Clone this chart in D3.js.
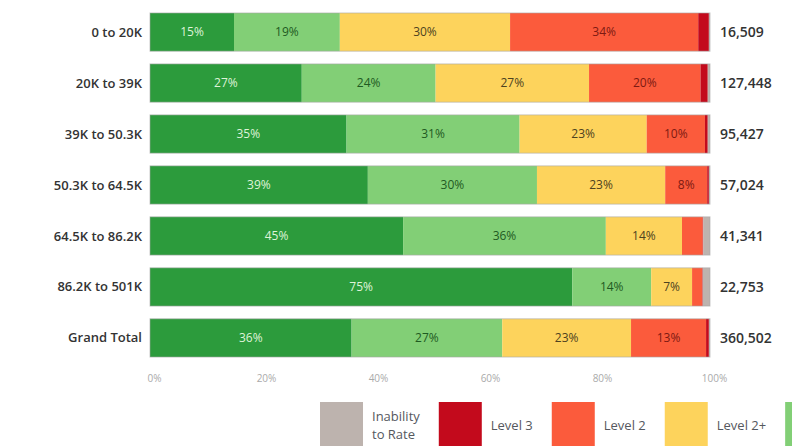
<!DOCTYPE html>
<html>
<head>
<meta charset="utf-8">
<script src="https://cdn.jsdelivr.net/npm/d3@7"></script>
<style>
  body { margin: 0; background: #fff; }
  svg { display: block; font-family: "Open Sans", "Noto Sans", sans-serif; }
</style>
</head>
<body>
<svg id="chart" width="792" height="446"></svg>
<script>
// Data
const incomeGroups = ['0 to 20K', '20K to 39K', '39K to 50.3K', '50.3K to 64.5K', '64.5K to 86.2K', '86.2K to 501K', 'Grand Total'];
const totals = ['16,509', '127,448', '95,427', '57,024', '41,341', '22,753', '360,502'];
// series in bar order, left to right
const levels = ['Level 1+', 'Level 1', 'Level 2+', 'Level 2', 'Level 3', 'Inability to Rate'];
const level1Plus = [15.0, 27.1, 35.1, 38.9, 45.2, 75.4, 36.0];
const level1 = [18.9, 23.9, 30.9, 30.2, 36.2, 14.1, 26.9];
const level2Plus = [30.4, 27.4, 22.7, 22.9, 13.6, 7.3, 23.0];
const level2 = [33.6, 19.9, 10.4, 7.5, 3.7, 1.8, 13.4];
const level3 = [1.9, 1.3, 0.5, 0.3, 0.1, 0.1, 0.5];
const unableToRate = [0.2, 0.4, 0.4, 0.2, 1.2, 1.3, 0.2];
const tickValues = [0, 20, 40, 60, 80, 100];
// legend as shown under the chart (the green entry is cut off at the right edge)
const legendOrder = ['Inability to Rate', 'Level 3', 'Level 2', 'Level 2+', 'Level 1'];

const colors = {
  'Level 1+': '#2c9b3c',
  'Level 1': '#82cf76',
  'Level 2+': '#fdd35c',
  'Level 2': '#fb5b3c',
  'Level 3': '#c30a1c',
  'Inability to Rate': '#bdb3ae'
};
const labelColors = {
  'Level 1+': '#dff3d8',
  'Level 1': '#1f5a22',
  'Level 2+': '#4d4220',
  'Level 2': '#7d1a12',
  'Level 3': '#fff',
  'Inability to Rate': '#333'
};

const seriesValues = [level1Plus, level1, level2Plus, level2, level3, unableToRate];
const rows = incomeGroups.map((g, i) => {
  const row = { group: g, total: totals[i] };
  levels.forEach((lv, j) => { row[lv] = seriesValues[j][i]; });
  return row;
});

const svg = d3.select('#chart');

const x = d3.scaleLinear().domain([0, 100]).range([150, 710]);
const y = d3.scaleBand().domain(incomeGroups).range([6.6, 363.4]).paddingInner(0.25).paddingOuter(0.125);

const stacked = d3.stack().keys(levels)(rows);

// Segments
const layers = svg.append('g')
  .selectAll('g')
  .data(stacked)
  .join('g')
    .attr('fill', d => colors[d.key]);

layers.selectAll('rect')
  .data(d => d)
  .join('rect')
    .attr('x', d => x(d[0]))
    .attr('y', d => y(d.data.group))
    .attr('width', d => x(d[1]) - x(d[0]))
    .attr('height', y.bandwidth());

// Thin outline around each bar
svg.append('g')
  .selectAll('rect')
  .data(rows)
  .join('rect')
    .attr('x', x(0))
    .attr('y', d => y(d.group))
    .attr('width', x(100) - x(0))
    .attr('height', y.bandwidth())
    .attr('fill', 'none')
    .attr('stroke', '#a9a9a9')
    .attr('stroke-opacity', 0.6)
    .attr('stroke-width', 1);

// Segment labels
layers.each(function(layer) {
  d3.select(this.parentNode).append('g')
    .selectAll('text')
    .data(layer.filter(d => d[1] - d[0] >= 5))
    .join('text')
      .attr('x', d => (x(d[0]) + x(d[1])) / 2)
      .attr('y', d => y(d.data.group) + y.bandwidth() / 2)
      .attr('dy', '0.35em')
      .attr('text-anchor', 'middle')
      .attr('font-size', 12)
      .attr('fill', labelColors[layer.key])
      .text(d => Math.round(d[1] - d[0]) + '%');
});

// Row labels
svg.append('g')
  .selectAll('text')
  .data(incomeGroups)
  .join('text')
    .attr('x', 142)
    .attr('y', d => y(d) + y.bandwidth() / 2)
    .attr('dy', '0.35em')
    .attr('text-anchor', 'end')
    .attr('font-size', 13)
    .attr('font-weight', 600)
    .attr('fill', '#333')
    .text(d => d);

// Totals
svg.append('g')
  .selectAll('text')
  .data(rows)
  .join('text')
    .attr('x', 720)
    .attr('y', d => y(d.group) + y.bandwidth() / 2)
    .attr('dy', '0.35em')
    .attr('font-size', 14)
    .attr('font-weight', 600)
    .attr('fill', '#333')
    .text(d => d.total);

// X axis
const xAxis = svg.append('g')
  .attr('transform', 'translate(4,372)')
  .call(d3.axisBottom(x).tickValues(tickValues).tickSize(0).tickFormat(d => d + '%'));
xAxis.select('.domain').remove();
xAxis.selectAll('text')
  .attr('font-family', '"Open Sans", sans-serif')
  .attr('font-size', 10)
  .attr('fill', '#aaa');

// Legend
const legend = svg.append('g').attr('transform', 'translate(320,402)');
let lx = 0;
legendOrder.forEach((name, k) => {
  const item = legend.append('g').attr('transform', `translate(${lx},0)`);
  item.append('rect')
    .attr('width', 43)
    .attr('height', 46)
    .attr('fill', colors[name]);
  if (k === legendOrder.length - 1) return; // last entry only shows its swatch edge
  const t = item.append('text')
    .attr('x', 52)
    .attr('font-size', 13)
    .attr('fill', '#55585e');
  const lines = name === 'Inability to Rate' ? ['Inability', 'to Rate'] : [name];
  lines.forEach((ln, i) => {
    t.append('tspan')
      .attr('x', 52)
      .attr('y', lines.length > 1 ? 19 + i * 18 : 28)
      .text(ln);
  });
  const w = d3.max(t.selectAll('tspan').nodes(), n => n.getComputedTextLength());
  lx += 52 + w + 19;
});
</script>
</body>
</html>
